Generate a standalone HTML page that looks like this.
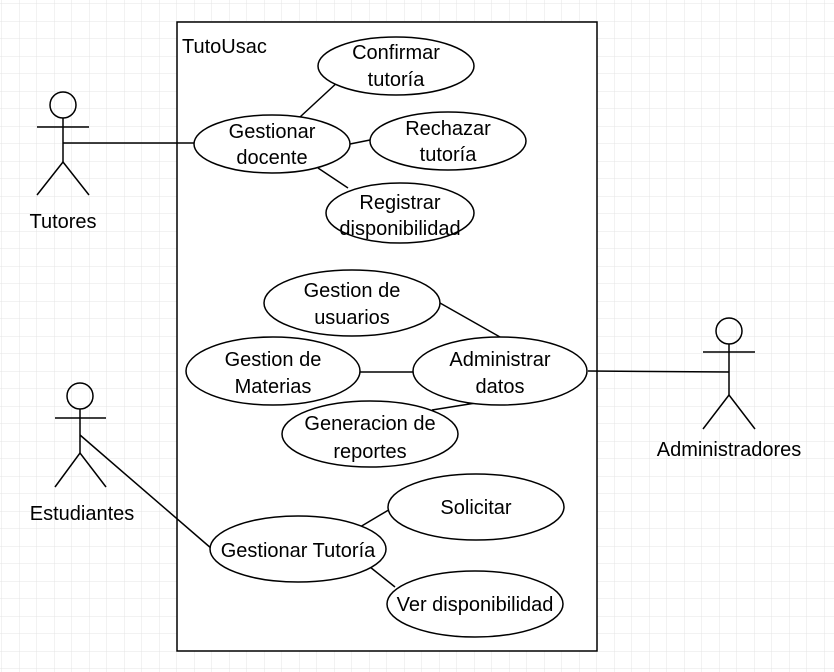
<!DOCTYPE html>
<html><head><meta charset="utf-8"><style>
html,body{margin:0;padding:0;background:#fff;}
svg{display:block;}
text{font-family:"Liberation Sans",Arial,sans-serif;font-size:20px;fill:#000;}
</style></head><body>
<svg width="834" height="672" viewBox="0 0 834 672" xmlns="http://www.w3.org/2000/svg">
<defs>
<pattern id="g" x="2" y="4" width="17.5" height="17.5" patternUnits="userSpaceOnUse">
<path d="M17.5 0V17.5M0 17.5H17.5" fill="none" stroke="#e4e4e4" stroke-width="1"/>
</pattern>
</defs>
<rect width="834" height="672" fill="url(#g)"/>
<g stroke="#000" stroke-width="1.5" fill="none">
<rect x="177" y="22" width="420" height="629" fill="#fff"/>
<line x1="63" y1="143" x2="194" y2="143"/>
<line x1="80" y1="435" x2="212" y2="549"/>
<line x1="588" y1="371" x2="729" y2="372"/>
<line x1="300" y1="117" x2="340" y2="80"/>
<line x1="350" y1="144" x2="370" y2="140"/>
<line x1="318" y1="168" x2="348" y2="188"/>
<line x1="440" y1="303" x2="500" y2="337"/>
<line x1="360" y1="372" x2="413" y2="372"/>
<line x1="432" y1="410" x2="482" y2="402"/>
<line x1="360" y1="527" x2="397" y2="505"/>
<line x1="370" y1="567" x2="395" y2="587"/>
<circle cx="63" cy="105" r="13"/><line x1="37" y1="127" x2="89" y2="127"/><line x1="63" y1="118" x2="63" y2="162"/><polyline points="37,195 63,162 89,195"/>
<circle cx="80" cy="396" r="13"/><line x1="55" y1="418" x2="106" y2="418"/><line x1="80" y1="409" x2="80" y2="453"/><polyline points="55,487 80,453 106,487"/>
<circle cx="729" cy="331" r="13"/><line x1="703" y1="352" x2="755" y2="352"/><line x1="729" y1="344" x2="729" y2="395"/><polyline points="703,429 729,395 755,429"/>
</g>
<g stroke="#000" stroke-width="1.5" fill="#fff">
<ellipse cx="396" cy="66" rx="78" ry="29"/>
<ellipse cx="272" cy="144" rx="78" ry="29"/>
<ellipse cx="448" cy="141" rx="78" ry="29"/>
<ellipse cx="400" cy="213" rx="74" ry="30"/>
<ellipse cx="352" cy="303" rx="88" ry="33"/>
<ellipse cx="273" cy="371" rx="87" ry="34"/>
<ellipse cx="500" cy="371" rx="87" ry="34"/>
<ellipse cx="370" cy="434" rx="88" ry="33"/>
<ellipse cx="476" cy="507" rx="88" ry="33"/>
<ellipse cx="298" cy="549" rx="88" ry="33"/>
<ellipse cx="475" cy="604" rx="88" ry="33"/>
</g>
<g text-anchor="middle">
<text x="396" y="59">Confirmar</text><text x="396" y="86">tutoría</text>
<text x="272" y="138">Gestionar</text><text x="272" y="164">docente</text>
<text x="448" y="135">Rechazar</text><text x="448" y="161">tutoría</text>
<text x="400" y="209">Registrar</text><text x="400" y="235">disponibilidad</text>
<text x="352" y="297">Gestion de</text><text x="352" y="324">usuarios</text>
<text x="273" y="366">Gestion de</text><text x="273" y="393">Materias</text>
<text x="500" y="366">Administrar</text><text x="500" y="393">datos</text>
<text x="370" y="430">Generacion de</text><text x="370" y="458">reportes</text>
<text x="476" y="514">Solicitar</text>
<text x="298" y="557">Gestionar Tutoría</text>
<text x="475" y="611">Ver disponibilidad</text>
<text x="63" y="228">Tutores</text>
<text x="82" y="520">Estudiantes</text>
<text x="729" y="456">Administradores</text>
</g>
<text x="182" y="53">TutoUsac</text>
</svg>
</body></html>
